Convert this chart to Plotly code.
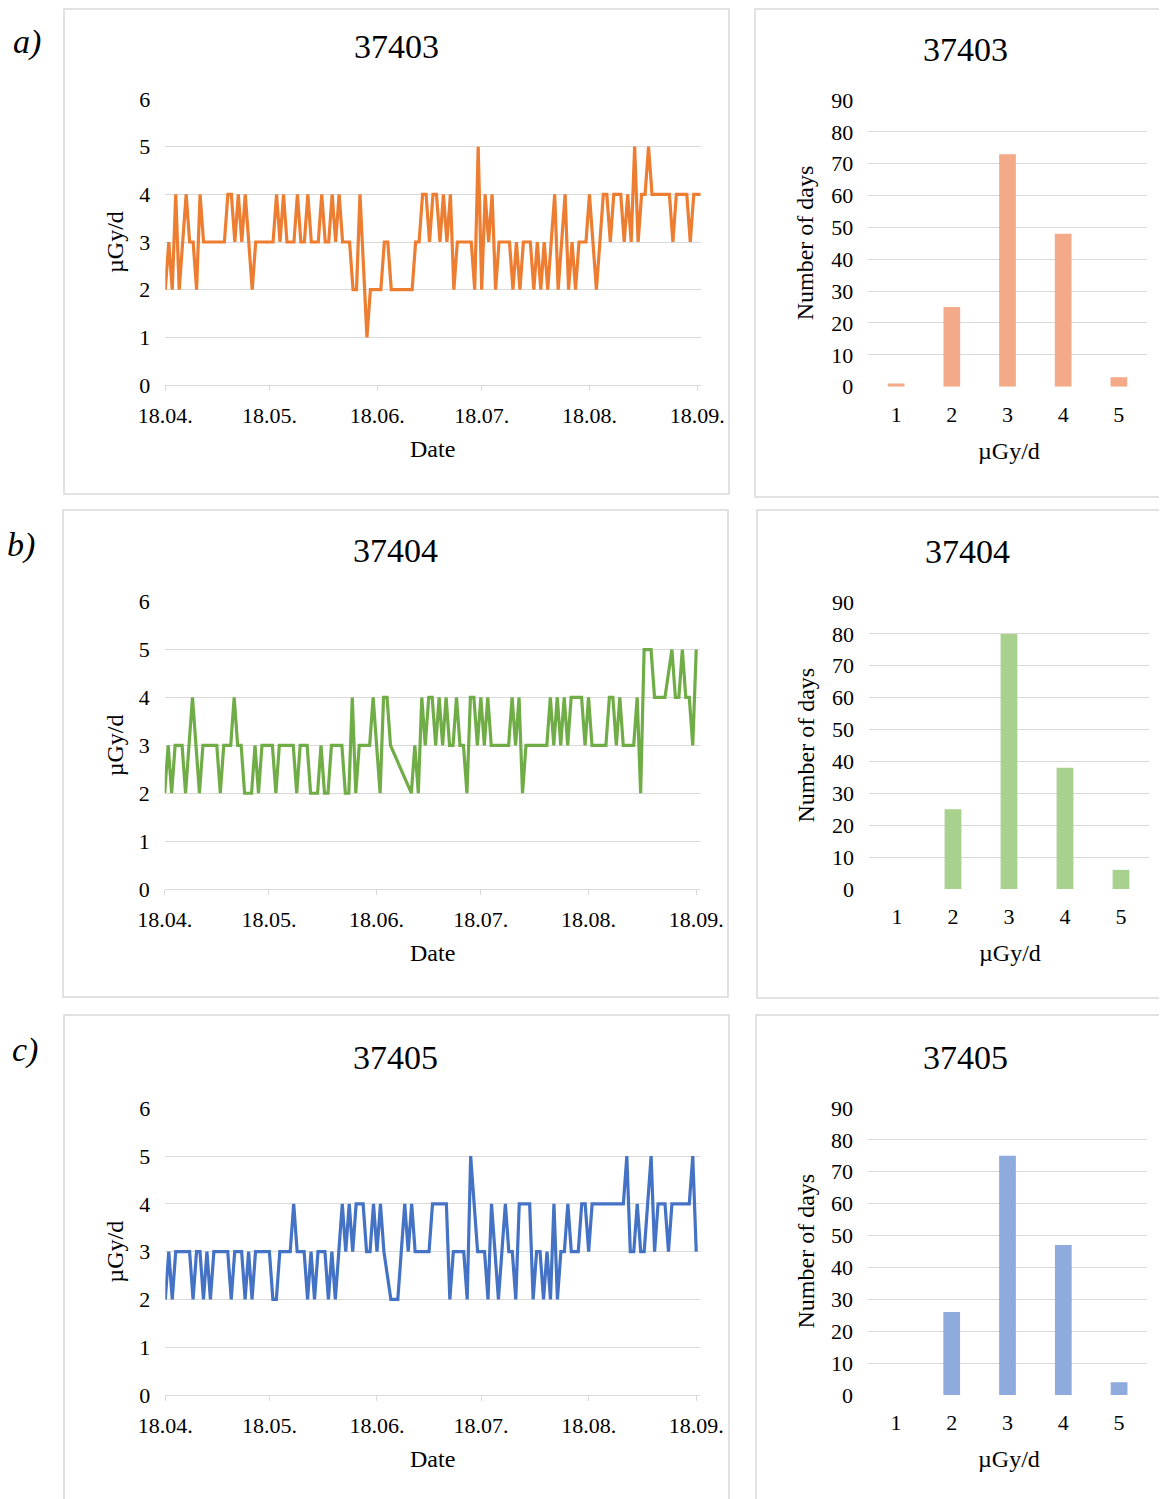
import plotly.graph_objects as go
import pandas as pd

W, H = 1167, 1499
PAGE_OFFSET = 8  # browser body margin, compensated so the figure lines up with the window

# ---------------- data ----------------
start_date = "2018-04-18"
date_axis_end = "2018-09-19"
month_ticks = ["2018-04-18", "2018-05-18", "2018-06-18", "2018-07-18", "2018-08-18", "2018-09-18"]
month_tick_labels = ["18.04.", "18.05.", "18.06.", "18.07.", "18.08.", "18.09."]

stations = ["37403", "37404", "37405"]
panel_labels = ["a)", "b)", "c)"]

# daily dose (µGy/d), one value per day from 18.04.; None = missing day
doses_37403 = [2, 3, 2, 4, 2, 3, 4, 3, 3, 2, 4,
               3, 3, 3, 3, 3, 3, 3,
               4, 4, 3, 4, 3, 4, 3, 2,
               3, 3, 3, 3, 3, 3,
               4, 3, 4,
               3, 3, 3,
               4, 3, 3, 4,
               3, 3, 3,
               4, 3, 3, 4, 3, 4,
               3, 3, 3,
               2, 2, 4, None, 1,
               2, 2, 2, 2,
               3, 3,
               2, 2, 2, 2, 2, 2, 2,
               3, 3, 4, 4, 3, 4, 4, 3, 4, 3, 4, 2,
               3, 3, 3, 3, 3,
               2, 5, 2, 4, 3, 4, 2,
               3, 3, 3, 3,
               2, 3, 2,
               3, 3, 3,
               2, 3, 2, 3, 2, 3, 4, 2, 3, 4, 2, 3, 2,
               3, 3, 3,
               4, 3, 2, 3, 4, 4, 3,
               4, 4, 4,
               3, 4, 3, 5, 3, 4, 4, 5,
               4, 4, 4, 4, 4, 4,
               3,
               4, 4, 4, 4,
               3, 4, 4, 4]

doses_37404 = [2, 3, 2,
               3, 3, 3,
               2, 3, 4, 3, 2,
               3, 3, 3, 3, 3,
               2,
               3, 3, 3,
               4, 3, 3,
               2, 2, 2,
               3, 2,
               3, 3, 3, 3,
               2,
               3, 3, 3, 3, 3,
               2,
               3, 3, 3,
               2, 2, 2,
               3, 2, 2,
               3, 3, 3, 3,
               2, 2, 4, 2,
               3, 3, 3, 3,
               4, 3, 2, 4, 4, 3,
               None, None, None, None, None,
               2, 3, 2, 4, 3, 4, 4, 3, 4, 3, 4, 3, 3, 4, 3, 3, 2, 4, 4, 3, 4, 3, 4,
               3, 3, 3, 3, 3, 3,
               4, 3, 4, 2,
               3, 3, 3, 3, 3, 3, 3,
               4, 3, 4, 3, 4, 3,
               4, 4, 4, 4,
               3, 4,
               3, 3, 3, 3, 3,
               4, 4, 3, 4,
               3, 3, 3, 3,
               4, 2,
               5, 5, 5,
               4, 4, 4, 4,
               None,
               5, 4, 4, 5, 4, 4, 3, 5]

doses_37405 = [2, 3, 2,
               3, 3, 3, 3, 3,
               2, 3, 3, 2, 3, 2,
               3, 3, 3, 3, 3,
               2, 3, 3, 3, 2, 3, 2,
               3, 3, 3, 3, 3,
               2, 2,
               3, 3, 3, 3,
               4,
               3, 3, 3,
               2, 3, 2,
               3, 3, 3,
               2, 3, 2, 3, 4, 3, 4, 3,
               4, 4, 4,
               3, 3, 4, 3, 4, 3,
               None,
               2, 2, 2,
               3, 4, 3, 4,
               3, 3, 3, 3, 3,
               4, 4, 4, 4, 4,
               2,
               3, 3, 3, 3,
               2, 5, 4,
               3, 3, 3,
               2, 4, 3, 2, 3, 4, 3, 3, 2,
               4, 4, 4, 4,
               2, 3, 3, 2, 3, 2, 4, 2, 3, 3, 4,
               3, 3, 3,
               4, 4, 3,
               4, 4, 4, 4, 4, 4, 4, 4, 4, 4,
               5, 3, 3, 4, 3, 3, 4, 5, 3,
               4, 4, 4,
               3,
               4, 4, 4, 4, 4, 4,
               5, 3]

dose_levels = [1, 2, 3, 4, 5]
days_37403 = [1, 25, 73, 48, 3]
days_37404 = [0, 25, 80, 38, 6]
days_37405 = [0, 26, 75, 47, 4]

series = [doses_37403, doses_37404, doses_37405]
hists = [days_37403, days_37404, days_37405]

# ---------------- style / layout geometry (window pixels) ----------------
line_colors = ["#ED7D31", "#70AD47", "#4472C4"]
bar_colors = ["#F4AA88", "#A9D18E", "#8FAADC"]
GRID = "#D9D9D9"
FONT = "Liberation Serif, Times New Roman, serif"
TXT = "#000000"

rows = [
    dict(lp=(165.3, 99, 700.7, 385), hp=(868.3, 100, 1146.7, 386.7),
         lbox=(64, 7, 729, 494), hbox=(755, 7, 1200, 497),
         lt=(396, 47), ht=(965, 49), lab=(27, 42)),
    dict(lp=(164.7, 601.7, 699.7, 889), hp=(869, 602, 1149, 889),
         lbox=(63, 510, 728, 997), hbox=(757, 510, 1200, 998),
         lt=(395, 550), ht=(967, 551), lab=(21, 545)),
    dict(lp=(165.3, 1108.3, 699.7, 1395), hp=(868, 1108, 1147, 1395),
         lbox=(64, 1015, 729, 1540), hbox=(756, 1015, 1200, 1540),
         lt=(395, 1057), ht=(965, 1057), lab=(25, 1050)),
]


def px(x):
    return (x - PAGE_OFFSET) / W


def py(y):
    return 1 - (y - PAGE_OFFSET) / H


fig = go.Figure()
layout = {}
annotations = []
shapes = []

for i, r in enumerate(rows):
    li, hi = 2 * i + 1, 2 * i + 2
    lx, ly = ("x" if li == 1 else f"x{li}"), ("y" if li == 1 else f"y{li}")
    hx, hy = f"x{hi}", f"y{hi}"
    dates = pd.date_range(start_date, periods=len(series[i]), freq="D")

    fig.add_trace(go.Scatter(x=dates, y=series[i], mode="lines", connectgaps=True,
                             line=dict(color=line_colors[i], width=3.2),
                             xaxis=lx, yaxis=ly, showlegend=False))
    fig.add_trace(go.Bar(x=dose_levels, y=hists[i], width=0.3,
                         marker=dict(color=bar_colors[i], line=dict(width=0)),
                         xaxis=hx, yaxis=hy, showlegend=False))

    x0, y0, x1, y1 = r["lp"]
    layout["xaxis" if li == 1 else f"xaxis{li}"] = dict(
        domain=[px(x0), px(x1)], anchor=ly, type="date", automargin=False,
        range=[start_date, date_axis_end], tickvals=month_ticks, ticktext=month_tick_labels,
        showgrid=False, zeroline=False, showline=True, linecolor=GRID, linewidth=1.3,
        ticks="outside", ticklen=5, tickcolor=GRID, tickwidth=1.3,
        tickfont=dict(family=FONT, size=22, color=TXT), ticklabelstandoff=5)
    layout["yaxis" if li == 1 else f"yaxis{li}"] = dict(
        domain=[py(y1), py(y0)], anchor=lx, range=[0, 6], tick0=0, dtick=1, automargin=False,
        showgrid=True, gridcolor=GRID, gridwidth=1.3, zeroline=False, showline=False,
        ticks="", tickfont=dict(family=FONT, size=22, color=TXT), ticklabelstandoff=14)

    x0, y0, x1, y1 = r["hp"]
    layout[f"xaxis{hi}"] = dict(
        domain=[px(x0), px(x1)], anchor=hy, range=[0.5, 5.5], tickvals=dose_levels,
        automargin=False,
        showgrid=False, zeroline=False, showline=False, ticks="",
        tickfont=dict(family=FONT, size=22, color=TXT), ticklabelstandoff=12)
    layout[f"yaxis{hi}"] = dict(
        domain=[py(y1), py(y0)], anchor=hx, range=[0, 90], tick0=0, dtick=10, automargin=False,
        showgrid=True, gridcolor=GRID, gridwidth=1.3, zeroline=False, showline=False,
        ticks="", tickfont=dict(family=FONT, size=22, color=TXT), ticklabelstandoff=14)

    # frames (top edge kept inside the figure so it stays visible)
    for b in (r["lbox"], r["hbox"]):
        top = min(py(b[1]), 1 - 1.0 / H)
        shapes.append(dict(type="rect", xref="paper", yref="paper",
                           x0=px(b[0]), x1=px(b[2]), y0=py(b[3]), y1=top,
                           line=dict(color=GRID, width=1.5), fillcolor="rgba(0,0,0,0)",
                           layer="below"))

    def ann(text, x, y, size, angle=0):
        annotations.append(dict(text=text, xref="paper", yref="paper", x=px(x), y=py(y),
                                xanchor="center", yanchor="middle", showarrow=False,
                                textangle=angle, font=dict(family=FONT, size=size, color=TXT)))

    lpy = r["lp"]
    hpy = r["hp"]
    ann(stations[i], r["lt"][0], r["lt"][1], 34)
    ann(stations[i], r["ht"][0], r["ht"][1], 34)
    ann("<i>" + panel_labels[i] + "</i>", r["lab"][0], r["lab"][1], 34)
    ann("µGy/d", 115, (lpy[1] + lpy[3]) / 2, 24, -90)
    ann("Date", 432, lpy[3] + 64, 24)
    ann("Number of days", 805, (hpy[1] + hpy[3]) / 2, 24, -90)
    ann("µGy/d", (hpy[0] + hpy[2]) / 2 + 1, hpy[3] + 64, 24)

fig.update_layout(
    width=W, height=H, margin=dict(l=0, r=0, t=0, b=0, pad=0, autoexpand=False),
    paper_bgcolor="white", plot_bgcolor="white", showlegend=False,
    bargap=0.7, annotations=annotations, shapes=shapes, **layout)

fig.write_html("out.html")
